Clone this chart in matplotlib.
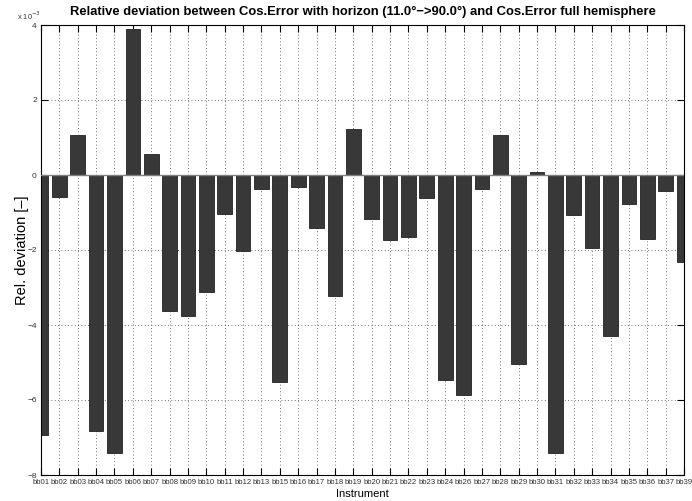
import numpy as np
import matplotlib
matplotlib.use('Agg')
import matplotlib.pyplot as plt

plt.rcParams['font.family'] = ['Liberation Sans', 'DejaVu Sans']

# instruments (bb14, bb25, bb38 not present)
instruments = ['bb01', 'bb02', 'bb03', 'bb04', 'bb05', 'bb06', 'bb07', 'bb08', 'bb09',
               'bb10', 'bb11', 'bb12', 'bb13', 'bb15', 'bb16', 'bb17', 'bb18', 'bb19',
               'bb20', 'bb21', 'bb22', 'bb23', 'bb24', 'bb26', 'bb27', 'bb28', 'bb29',
               'bb30', 'bb31', 'bb32', 'bb33', 'bb34', 'bb35', 'bb36', 'bb37', 'bb39']

# relative deviation, in units of 1e-3
rel_dev_e3 = [-6.93, -0.59, 1.07, -6.82, -7.42, 3.90, 0.56, -3.63, -3.76,
              -3.11, -1.03, -2.02, -0.36, -5.52, -0.31, -1.40, -3.22, 1.24,
              -1.16, -1.74, -1.66, -0.62, -5.46, -5.86, -0.37, 1.08, -5.05,
              0.09, -7.42, -1.07, -1.95, -4.28, -0.78, -1.70, -0.43, -2.32]

yticks = [-8, -6, -4, -2, 0, 2, 4]

fig = plt.figure(figsize=(6.92, 5.01), dpi=100)
ax = fig.add_axes([41 / 692, 26 / 501, 643 / 692, 450 / 501])

x = np.arange(1, len(instruments) + 1)
ax.bar(x, rel_dev_e3, width=0.8, color='#383838', edgecolor='#222222', linewidth=0.6, zorder=2)
ax.axhline(0, color='#808080', linewidth=1.0, zorder=3)

ax.set_xlim(1, len(instruments))
ax.set_ylim(-8, 4)
ax.set_xticks(x)
ax.set_xticklabels(instruments, fontsize=5.6, color='#333333')
ax.set_yticks(yticks)
ax.set_yticklabels([str(t).replace('-', '\u2212') for t in yticks], fontsize=6, color='#333333')

ax.tick_params(direction='in', length=5, width=0.8, top=True, right=True,
               labeltop=False, labelright=False, pad=3)
ax.set_axisbelow(True)
ax.grid(True, linestyle=(0, (1, 3)), color='#444444', linewidth=0.6)
for s in ax.spines.values():
    s.set_linewidth(0.8)

ax.set_xlabel('Instrument', fontsize=8, labelpad=2)
ax.set_ylabel('Rel. deviation [\u2013]', fontsize=10.5, labelpad=-1)
ax.set_title('Relative deviation between Cos.Error with horizon (11.0\u00b0\u2212>90.0\u00b0) and Cos.Error full hemisphere',
             fontsize=9.4, fontweight='bold', pad=7)
ax.text(0.0, 1.006, 'x 10$^{-3}$', transform=ax.transAxes, fontsize=5.5,
        ha='right', va='bottom', color='#333333')

fig.savefig('out.png', dpi=100)
